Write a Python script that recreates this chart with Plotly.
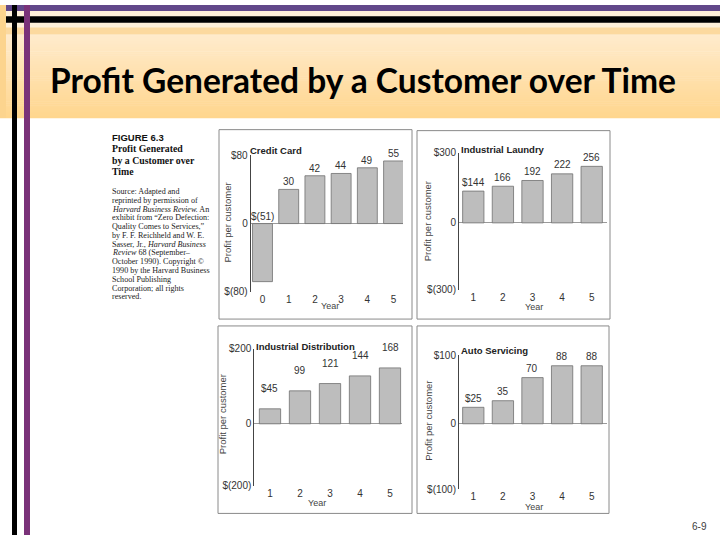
import plotly.graph_objects as go

# ---------------- data ----------------
panel_titles = ["Credit Card", "Industrial Laundry", "Industrial Distribution", "Auto Servicing"]
years_cc = [0, 1, 2, 3, 4, 5]
profit_cc = [-51, 30, 42, 44, 49, 55]
years_il = [1, 2, 3, 4, 5]
profit_il = [144, 166, 192, 222, 256]
years_id = [1, 2, 3, 4, 5]
profit_id = [45, 99, 121, 144, 168]
years_as = [1, 2, 3, 4, 5]
profit_as = [25, 35, 70, 88, 88]
ytick_cc = ["$(80)", "0", "$80"]
ytick_il = ["$(300)", "0", "$300"]
ytick_id = ["$(200)", "0", "$200"]
ytick_as = ["$(100)", "0", "$100"]

slide_title = "Profit Generated by a Customer over Time"
fig_label = "FIGURE 6.3"
fig_caption = ["Profit Generated", "by a Customer over", "Time"]
source_lines = [
    "Source: Adapted and",
    "reprinted by permission of",
    "<i>Harvard Business Review.</i> An",
    "exhibit from \u201cZero Defection:",
    "Quality Comes to Services,\u201d",
    "by F. F. Reichheld and W. E.",
    "Sasser, Jr., <i>Harvard Business</i>",
    "<i>Review</i> 68 (September\u2013",
    "October 1990). Copyright \u00a9",
    "1990 by the Harvard Business",
    "School Publishing",
    "Corporation; all rights",
    "reserved.",
]
page_no = "6-9"

series = [
    (years_cc, profit_cc, ytick_cc),
    (years_il, profit_il, ytick_il),
    (years_id, profit_id, ytick_id),
    (years_as, profit_as, ytick_as),
]

# ---------------- layout geometry (pixels) ----------------
W, H = 720, 540
def px(x): return x / W
def py(y): return 1 - y / H

panels = [
    dict(x0=250.7, x1=403.0, xr=[-0.45, 5.36], ytop=153, ybot=292, zero=222.7, k=1.16, bw=0.76, off=6,
         title=(248, 148.5), year=(330, 307), ylab=(228, 221.7), box=(219, 127, 412, 320)),
    dict(x0=459.0, x1=606.7, xr=[0.517, 5.507], ytop=150.7, ybot=290, zero=222, k=0.225, bw=0.72, off=7.5,
         title=(459, 147.5), year=(534, 307.5), ylab=(428.3, 220), box=(417, 128, 610, 320)),
    dict(x0=254.3, x1=401.7, xr=[0.477, 5.39], ytop=350, ybot=490, zero=426.7, k=0.339, bw=0.71, off=19,
         title=(254.3, 348.3), year=(316.7, 507.5), ylab=(223.3, 416.7), box=(218, 327, 412, 518)),
    dict(x0=459.0, x1=606.7, xr=[0.517, 5.507], ytop=356.7, ybot=493.3, zero=426.7, k=0.672, bw=0.72, off=7.7,
         title=(459, 352.3), year=(534, 511.7), ylab=(428.3, 423.3), box=(417, 327, 609, 518)),
]

fig = go.Figure()
annotations = []
shapes = []
layout_axes = {}

SANS = "Liberation Sans, Arial, sans-serif"
SERIF = "Liberation Serif, Times New Roman, serif"

def fmt(v, first):
    if v < 0:
        return f"$({-v})"
    return f"${v}" if first else str(v)

for i, (p, (xs, vs, yt)) in enumerate(zip(panels, series)):
    n = "" if i == 0 else str(i + 1)
    xa, ya = "x" + n, "y" + n
    hi = (p["zero"] - p["ytop"]) / p["k"]
    lo = -(p["ybot"] - p["zero"]) / p["k"]
    fig.add_trace(go.Bar(
        x=xs, y=vs, xaxis=xa, yaxis=ya, width=p["bw"],
        marker=dict(color="#bdbdbd", line=dict(color="#707070", width=0.8)),
        showlegend=False, hoverinfo="skip",
    ))
    layout_axes["xaxis" + n] = dict(
        domain=[px(p["x0"]), px(p["x1"])], range=p["xr"], anchor=ya,
        tickmode="array", tickvals=xs, ticktext=[str(x) for x in xs],
        showgrid=False, zeroline=False, showline=False, ticks="",
        tickfont=dict(family=SANS, size=10, color="#333"), fixedrange=True,
    )
    layout_axes["yaxis" + n] = dict(
        domain=[py(p["ybot"]), py(p["ytop"])], range=[lo, hi], anchor=xa,
        tickmode="array", tickvals=[lo * 0.999, 0, hi * 0.999], ticktext=yt,
        showgrid=False, zeroline=True, zerolinecolor="#9a9a9a", zerolinewidth=1,
        showline=True, linecolor="#444", linewidth=1, ticks="",
        tickfont=dict(family=SANS, size=10, color="#333"), fixedrange=True,
    )
    for j, (x, v) in enumerate(zip(xs, vs)):
        annotations.append(dict(
            x=x, y=max(v, 0), xref=xa, yref=ya, text=fmt(v, j == 0), showarrow=False,
            yanchor="bottom", yshift=p["off"] - 6,
            font=dict(family=SANS, size=10, color="#333"),
        ))
    annotations.append(dict(
        x=px(p["title"][0]), y=py(p["title"][1]), xref="paper", yref="paper",
        text="<b>" + panel_titles[i] + "</b>", showarrow=False, xanchor="left", yanchor="middle",
        font=dict(family=SANS, size=9.5, color="#222"),
    ))
    annotations.append(dict(
        x=px(p["year"][0]), y=py(p["year"][1]), xref="paper", yref="paper",
        text="Year", showarrow=False, xanchor="center", yanchor="middle",
        font=dict(family=SANS, size=9, color="#444"),
    ))
    annotations.append(dict(
        x=px(p["ylab"][0]), y=py(p["ylab"][1]), xref="paper", yref="paper",
        text="Profit per customer", showarrow=False, textangle=-90,
        xanchor="center", yanchor="middle",
        font=dict(family=SANS, size=9.5, color="#444"),
    ))
    bx0, by0, bx1, by1 = p["box"]
    shapes.append(dict(type="rect", xref="paper", yref="paper",
                       x0=px(bx0), x1=px(bx1), y0=py(by1), y1=py(by0),
                       line=dict(color="#8a8a8a", width=1), fillcolor="rgba(0,0,0,0)", layer="below"))

# ---------------- slide decoration ----------------
def rect(x0, y0, x1, y1, color, layer="below"):
    return dict(type="rect", xref="paper", yref="paper", x0=px(x0), x1=px(x1),
                y0=py(y1), y1=py(y0), fillcolor=color, line=dict(width=0), layer=layer)

deco = []
deco.append(rect(0, 0, 720, 30, "#fff0d9"))
c_top = (255, 235, 204)
c_bot = (255, 214, 142)
nstr = 40
y_a, y_b = 30, 115
for s in range(nstr):
    t = s / (nstr - 1)
    c = tuple(int(round(c_top[m] + (c_bot[m] - c_top[m]) * t)) for m in range(3))
    ya0 = y_a + (y_b - y_a) * s / nstr
    ya1 = y_a + (y_b - y_a) * (s + 1) / nstr + 0.5
    deco.append(rect(0, ya0, 720, ya1, "rgb(%d,%d,%d)" % c))
deco.append(rect(0, 23, 720, 30, "#fcd99f"))
deco.append(rect(0, 0, 6, 115, "#fcd48e"))
deco.append(rect(6, 0, 720, 6, "#62488a"))
deco.append(rect(6, 11.5, 720, 18, "#000000"))
deco.append(rect(12, 0, 17, 540, "#000000"))
deco.append(rect(24, 0, 30, 540, "#7a3279"))

shapes = deco + shapes

annotations.append(dict(
    x=px(48), y=py(76), xref="paper", yref="paper", text="<b>" + slide_title + "</b>",
    showarrow=False, xanchor="left", yanchor="middle",
    font=dict(family="Lato, Open Sans, sans-serif", size=33.5, color="#000"),
))
annotations.append(dict(
    x=px(110), y=py(135), xref="paper", yref="paper", text="<b>" + fig_label + "</b>",
    showarrow=False, xanchor="left", yanchor="middle",
    font=dict(family=SANS, size=9.5, color="#111"),
))
cap_y = [146, 158.3, 170]
for t, yy in zip(fig_caption, cap_y):
    annotations.append(dict(
        x=px(110), y=py(yy), xref="paper", yref="paper", text="<b>" + t + "</b>",
        showarrow=False, xanchor="left", yanchor="middle",
        font=dict(family=SERIF, size=9.8, color="#111"),
    ))
for k_, t in enumerate(source_lines):
    annotations.append(dict(
        x=px(110), y=py(190 + 8.95 * k_), xref="paper", yref="paper", text=t,
        showarrow=False, xanchor="left", yanchor="middle",
        font=dict(family=SERIF, size=8.1, color="#222"),
    ))
annotations.append(dict(
    x=px(699), y=py(531), xref="paper", yref="paper", text=page_no,
    showarrow=False, xanchor="center", yanchor="middle",
    font=dict(family=SANS, size=10, color="#404040"),
))

fig.update_layout(
    width=W, height=H, margin=dict(l=0, r=0, t=0, b=0),
    paper_bgcolor="white", plot_bgcolor="rgba(0,0,0,0)",
    bargap=0.2, shapes=shapes, annotations=annotations, **layout_axes,
)
fig.write_html("out.html", config={"displayModeBar": False},
               post_script="document.body.style.margin='0';document.body.style.overflow='hidden';")
